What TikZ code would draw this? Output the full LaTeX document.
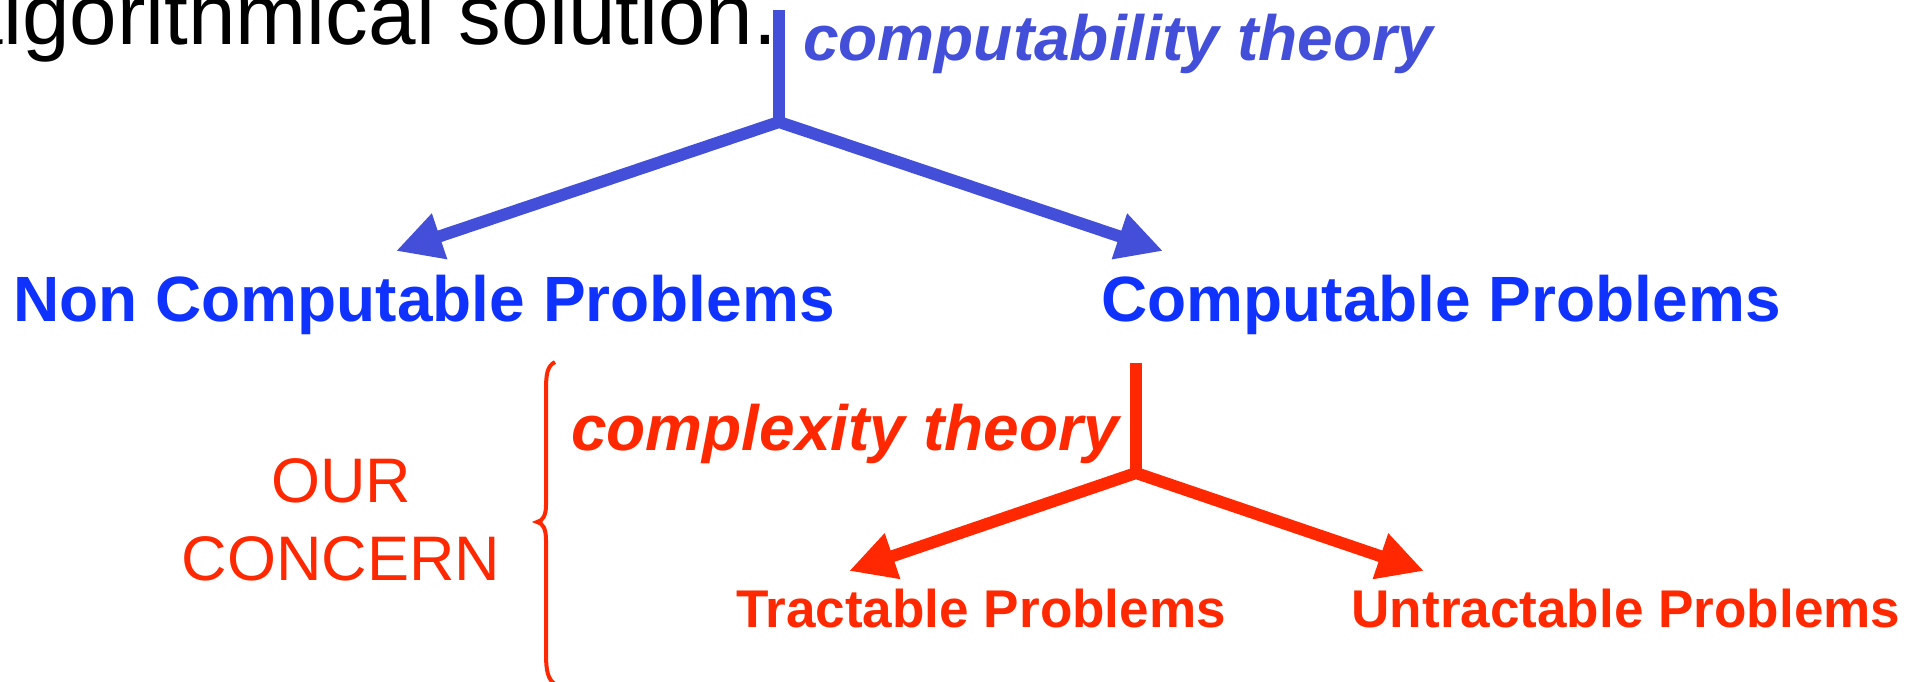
\documentclass[tikz,border=0pt]{standalone}
\usepackage{fontspec}
\setmainfont{Liberation Sans}
\usetikzlibrary{arrows.meta}

\definecolor{theoryblue}{RGB}{68,79,217}
\definecolor{problemblue}{RGB}{16,50,255}
\definecolor{concernred}{RGB}{255,40,0}

\begin{document}
\begin{tikzpicture}[x=0.01cm, y=-0.01cm,
  >={Triangle[length=4.6mm, width=4.5mm]},
  branch/.style={line width=1.2mm, line join=miter},
  bigtext/.style={inner sep=0pt, anchor=base, font=\fontsize{18.2pt}{21pt}\selectfont\bfseries},
  theorytext/.style={bigtext, font=\fontsize{18.2pt}{21pt}\selectfont\bfseries\itshape},
  smalltext/.style={inner sep=0pt, anchor=base, font=\fontsize{15.1pt}{18pt}\selectfont\bfseries}]
\useasboundingbox (0,0) rectangle (1924,682);

\coordinate (cTop) at (779,10);
\coordinate (cJunc) at (779,122);
\coordinate (ncTip) at (396,251);
\coordinate (cTip) at (1163,251);
\coordinate (xTop) at (1136,363);
\coordinate (xJunc) at (1136,473);
\coordinate (trTip) at (849,571);
\coordinate (utTip) at (1424,571);

% text from the slide above
\node[inner sep=0pt, anchor=base east, font=\fontsize{24.3pt}{29pt}\selectfont] (sol) at (778,45) {algorithmical solution.};

% first split
\draw[branch, theoryblue] (cTop) -- (cJunc);
\draw[branch, theoryblue, <->] (ncTip) -- (cJunc) -- (cTip);
\node[theorytext, text=theoryblue] (comput) at (1118,61) {computability theory};
\node[bigtext, text=problemblue] (noncomp) at (424,321) {Non Computable Problems};
\node[bigtext, text=problemblue] (comp) at (1441,321) {Computable Problems};

% second split
\draw[branch, concernred] (xTop) -- (xJunc);
\draw[branch, concernred, <->] (trTip) -- (xJunc) -- (utTip);
\node[theorytext, text=concernred] (complex) at (845,450) {complexity theory};
\node[smalltext, text=concernred] (tract) at (981,627) {Tractable Problems};
\node[smalltext, text=concernred] (untract) at (1626,627) {Untractable Problems};

% brace
\draw[concernred, line width=0.4mm] (555,362) .. controls (547,366) and (546,375) .. (546,390)
  -- (546,505) .. controls (546,515) and (543,521) .. (537,522)
  .. controls (543,523) and (546,529) .. (546,540)
  -- (546,655) .. controls (546,670) and (548,680) .. (555,684);
\node[inner sep=0pt, anchor=base, align=center, text=concernred,
  font=\fontsize{17.9pt}{21.9pt}\selectfont] (concern) at (341,580) {OUR\\CONCERN};
\end{tikzpicture}
\end{document}
